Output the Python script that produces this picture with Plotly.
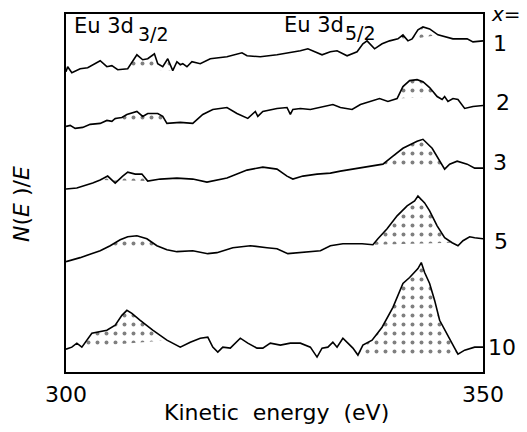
import plotly.graph_objects as go

# ---- data (kinetic energy in eV, N(E)/E in arbitrary units incl. vertical offsets) ----
E_x1 = [300.0, 300.2, 300.7, 301.7, 302.6, 304.1, 304.9, 305.5, 306.2, 307.4, 308.5, 309.2, 309.8, 310.6,
        311.0, 311.6, 312.2, 312.8, 313.3, 313.7, 314.0, 314.5, 315.1, 316.1, 317.3, 319.3, 321.1, 321.7,
        323.3, 325.3, 328.1, 329.0, 330.7, 331.7, 332.5, 333.7, 334.9, 335.6, 336.1, 336.5, 337.0, 337.9,
        338.8, 339.8, 340.4, 341.0, 341.5, 342.2, 342.8, 343.6, 344.6, 346.4, 348.1, 348.8, 350.0]
I_x1 = [302, 307, 301, 305, 306, 313, 307, 308, 304, 305, 319, 314, 315, 320, 310, 307, 315, 303, 312, 309,
        310, 307, 312, 310, 315, 317, 321, 318, 317, 319, 323, 325, 319, 322, 323, 318, 322, 330, 333, 329,
        325, 330, 333, 335, 339, 333, 335, 344, 347, 345, 339, 335, 335, 332, 333]

E_x2 = [300.0, 300.5, 301.1, 302.0, 302.9, 304.1, 304.9, 305.5, 305.9, 306.7, 307.3, 308.0, 308.5, 309.2,
        309.8, 311.0, 311.6, 312.1, 313.7, 315.2, 316.4, 317.6, 319.3, 320.5, 321.8, 322.7, 323.0, 323.6,
        325.3, 326.5, 326.9, 327.2, 328.1, 329.3, 330.5, 332.0, 332.9, 334.3, 335.3, 336.5, 337.6, 338.6,
        339.7, 340.4, 341.2, 342.1, 342.8, 343.6, 344.5, 345.1, 345.4, 345.8, 346.4, 347.0, 347.8, 348.8, 350.0]
I_x2 = [247, 248, 245, 246, 249, 250, 253, 252, 255, 256, 259, 261, 262, 257, 260, 260, 257, 250, 251, 250,
        259, 264, 266, 260, 255, 262, 257, 262, 265, 266, 259, 264, 265, 264, 266, 269, 266, 264, 269, 272,
        275, 272, 275, 287, 293, 294, 292, 286, 277, 274, 277, 272, 275, 274, 265, 267, 268]

E_x3 = [300.0, 301.3, 303.2, 304.1, 305.0, 305.9, 306.8, 307.4, 308.3, 309.1, 309.8, 311.3, 313.3, 315.2,
        316.9, 319.3, 321.7, 323.6, 325.3, 326.5, 327.2, 328.4, 330.1, 331.7, 332.9, 334.4, 336.1, 338.0,
        339.2, 340.4, 342.1, 342.8, 343.9, 344.5, 345.1, 345.4, 346.0, 346.9, 348.1, 349.0, 350.0]
I_x3 = [184, 185, 190, 193, 197, 190, 197, 201, 199, 199, 192, 194, 195, 194, 191, 195, 203, 206, 204, 197,
        194, 197, 199, 200, 202, 204, 206, 209, 217, 225, 232, 234, 225, 217, 209, 204, 209, 212, 209, 205, 205]

E_x5 = [300.0, 301.7, 304.1, 305.3, 306.5, 307.4, 308.5, 309.7, 310.9, 312.1, 313.3, 315.2, 317.0, 318.1,
        320.0, 322.1, 324.1, 325.3, 326.6, 328.1, 330.5, 331.7, 333.2, 335.5, 336.8, 337.4, 338.5, 339.7,
        340.9, 341.8, 342.2, 343.0, 343.6, 344.5, 345.4, 346.3, 347.0, 347.6, 348.4, 349.0, 350.0]
I_x5 = [111, 115, 122, 127, 133, 136, 137, 134, 127, 123, 121, 122, 119, 120, 125, 127, 125, 124, 119, 120,
        122, 127, 129, 129, 128, 134, 144, 157, 167, 172, 177, 170, 162, 147, 135, 130, 127, 132, 136, 135, 134]

E_x10 = [300.0, 300.7, 301.3, 301.9, 303.1, 303.7, 304.9, 305.9, 306.7, 307.3, 307.9, 308.9, 310.4, 312.1,
         313.7, 314.9, 316.1, 317.0, 317.6, 318.2, 318.8, 319.7, 320.9, 321.8, 322.9, 323.6, 324.5, 325.7,
         326.9, 328.1, 329.3, 330.1, 330.7, 331.4, 332.0, 332.5, 333.2, 333.8, 334.4, 335.0, 335.6, 336.7,
         337.9, 339.2, 340.4, 341.2, 342.2, 342.6, 343.0, 343.6, 344.2, 344.8, 345.6, 346.6, 347.0, 347.8,
         349.0, 350.0]
I_x10 = [23, 25, 29, 25, 39, 40, 42, 47, 57, 62, 59, 52, 42, 32, 25, 30, 34, 35, 25, 20, 25, 24, 34, 29, 24,
         24, 29, 27, 29, 29, 25, 15, 24, 25, 30, 25, 34, 29, 24, 17, 27, 32, 45, 65, 89, 95, 104, 110, 100,
         89, 72, 52, 39, 24, 18, 22, 25, 25]

# shaded (dotted) peak ranges, eV
shade_x1 = [(307.4, 312.8), (337.9, 344.6)]
shade_x2 = [(304.9, 312.1), (339.7, 344.5)]
shade_x3 = [(304.1, 309.8), (338.0, 345.4)]
shade_x5 = [(304.1, 310.9), (336.8, 346.3)]
shade_x10 = [(301.9, 312.1), (335.0, 347.0)]

x_labels = ["1", "2", "3", "5", "10"]
tick_vals = [300, 350]
tick_text = ["300", "350"]

spectra = [(E_x1, I_x1, shade_x1), (E_x2, I_x2, shade_x2), (E_x3, I_x3, shade_x3),
           (E_x5, I_x5, shade_x5), (E_x10, I_x10, shade_x10)]

FONT = "DejaVu Sans"
fig = go.Figure()

for E, I, shades in spectra:
    for a, b in shades:
        xs = [e for e in E if a - 1e-9 <= e <= b + 1e-9]
        ys = [i for e, i in zip(E, I) if a - 1e-9 <= e <= b + 1e-9]
        xs = xs + [xs[0]]
        ys = ys + [ys[0]]
        fig.add_trace(go.Scatter(
            x=xs, y=ys, mode="lines", fill="toself",
            line=dict(width=0, color="rgba(0,0,0,0)"),
            fillcolor="rgba(0,0,0,0)",
            fillpattern=dict(shape=".", size=9, solidity=0.15, fgcolor="black", bgcolor="rgba(0,0,0,0)"),
            hoverinfo="skip", showlegend=False))
    fig.add_trace(go.Scatter(x=E, y=I, mode="lines", line=dict(color="black", width=1.6),
                             showlegend=False))

# plot area in pixels: x 66..483, y 12..372
L, R, T, B = 66, 483, 12, 372


def px(x):
    return (x - L) / (R - L)


def py(y):
    return (B - y) / (B - T)


ann = []


def add(text, x, y, size=21, xanchor="center", angle=0):
    ann.append(dict(text=text, x=px(x), y=py(y), xref="paper", yref="paper", showarrow=False,
                    xanchor=xanchor, yanchor="middle", textangle=angle,
                    font=dict(family=FONT, size=size, color="black")))


add("Eu 3d", 72, 24, xanchor="left")
add("3/2", 136, 32, size=19, xanchor="left")
add("Eu 3d", 282, 23, xanchor="left")
add("5/2", 343, 31, size=19, xanchor="left")
add("<i>x</i>=", 489, 12, size=20, xanchor="left")
for lab, (xx, yy) in zip(x_labels, [(500, 42), (503, 101), (500, 161), (501, 241), (502, 347)]):
    add(lab, xx, yy, size=22)
add("<i>N</i>(<i>E</i> )/<i>E</i>", 22, 203, size=22, angle=-90)
add("Kinetic  energy  (eV)", 276, 413, size=22)

fig.update_layout(
    width=527, height=432, autosize=False,
    margin=dict(l=L, r=527 - R, t=T, b=432 - B),
    paper_bgcolor="white", plot_bgcolor="white",
    annotations=ann,
    xaxis=dict(range=[300, 350], showgrid=False, zeroline=False, showline=True, mirror=True,
               linecolor="black", linewidth=1.5, tickvals=tick_vals, ticktext=tick_text, ticks="",
               tickfont=dict(family=FONT, size=22, color="black"), ticklabelstandoff=2),
    yaxis=dict(range=[0, 360], showgrid=False, zeroline=False, showline=True, mirror=True,
               linecolor="black", linewidth=1.5, showticklabels=False, ticks=""),
)

fig.write_html("out.html", config={"displayModeBar": False},
               post_script="document.body.style.margin='0px';document.body.style.overflow='hidden';")
